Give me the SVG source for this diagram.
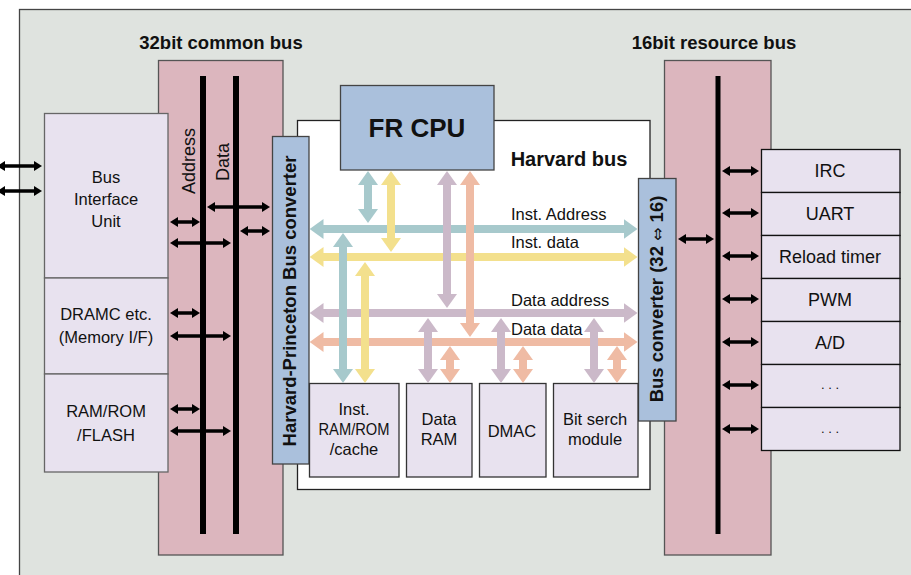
<svg xmlns="http://www.w3.org/2000/svg" width="911" height="575" viewBox="0 0 911 575">
<style>
text{font-family:"Liberation Sans",Arial,sans-serif;fill:#111;text-anchor:middle}
.b{font-weight:bold}
.r{font-size:16.5px}
.p{font-size:18px}
.lbl{font-size:18.5px;font-weight:bold}
.box{fill:#e8e2ef;stroke:#666;stroke-width:1.3}
.pbox{fill:#e8e2ef;stroke:#111;stroke-width:1.3}
.mbox{fill:#e8e2ef;stroke:#333;stroke-width:1.3}
.pink{fill:#dcb6be;stroke:#555;stroke-width:1.3}
.blue{fill:#aac0dc;stroke:#444;stroke-width:1.3}
.busline{stroke:#000;fill:none}
.k{stroke:#000;stroke-width:3.5;fill:none;marker-start:url(#mk);marker-end:url(#mk)}
.t{stroke:#a7c9cc;stroke-width:8;fill:none;marker-start:url(#mt);marker-end:url(#mt)}
.y{stroke:#f3e08d;stroke-width:8;fill:none;marker-start:url(#my);marker-end:url(#my)}
.l{stroke:#cbb9c9;stroke-width:8;fill:none;marker-start:url(#ml);marker-end:url(#ml)}
.s{stroke:#efbba4;stroke-width:8;fill:none;marker-start:url(#ms);marker-end:url(#ms)}
</style>
<defs>
<marker id="mk" markerUnits="userSpaceOnUse" viewBox="0 0 8 10" refX="1" refY="5" markerWidth="8" markerHeight="10" orient="auto-start-reverse"><path d="M0,0 L8,5 L0,10 z" fill="#000"/></marker>
<marker id="mt" markerUnits="userSpaceOnUse" viewBox="0 0 14 20" refX="1" refY="10" markerWidth="14" markerHeight="20" orient="auto-start-reverse"><path d="M0,0 L14,10 L0,20 z" fill="#a7c9cc"/></marker>
<marker id="my" markerUnits="userSpaceOnUse" viewBox="0 0 14 20" refX="1" refY="10" markerWidth="14" markerHeight="20" orient="auto-start-reverse"><path d="M0,0 L14,10 L0,20 z" fill="#f3e08d"/></marker>
<marker id="ml" markerUnits="userSpaceOnUse" viewBox="0 0 14 20" refX="1" refY="10" markerWidth="14" markerHeight="20" orient="auto-start-reverse"><path d="M0,0 L14,10 L0,20 z" fill="#cbb9c9"/></marker>
<marker id="ms" markerUnits="userSpaceOnUse" viewBox="0 0 14 20" refX="1" refY="10" markerWidth="14" markerHeight="20" orient="auto-start-reverse"><path d="M0,0 L14,10 L0,20 z" fill="#efbba4"/></marker>
</defs>
<rect x="0" y="0" width="911" height="575" fill="#fff"/>
<rect id="panel" x="19.5" y="9.5" width="910" height="600" fill="#dfe3df" stroke="#444" stroke-width="1.3"/>

<g id="common-bus">
<text class="lbl" x="221" y="49">32bit common bus</text>
<rect class="pink" x="158.5" y="60.5" width="124.5" height="494.5"/>
<line class="busline" x1="203" y1="76" x2="203" y2="534" stroke-width="6"/>
<line class="busline" x1="236" y1="76" x2="236" y2="534" stroke-width="6"/>
<text class="p" transform="translate(195,161) rotate(-90)">Address</text>
<text class="p" transform="translate(229,162) rotate(-90)">Data</text>
</g>

<g id="resource-bus">
<text class="lbl" x="714" y="49">16bit resource bus</text>
<rect class="pink" x="664.5" y="60.5" width="106.5" height="494.5"/>
<line class="busline" x1="718" y1="76" x2="718" y2="534" stroke-width="5"/>
</g>

<g id="bus-interface-unit">
<rect class="box" x="44.5" y="113.5" width="123.5" height="164.5"/>
<text class="r" x="106" y="183">Bus</text>
<text class="r" x="106" y="205">Interface</text>
<text class="r" x="106" y="227">Unit</text>
</g>
<g id="dramc">
<rect class="box" x="44.5" y="278" width="123.5" height="96"/>
<text class="r" x="106" y="320">DRAMC etc.</text>
<text class="r" x="106" y="343">(Memory I/F)</text>
</g>
<g id="ram-rom-flash">
<rect class="box" x="44.5" y="374" width="123.5" height="98"/>
<text class="r" x="106" y="417">RAM/ROM</text>
<text class="r" x="106" y="441">/FLASH</text>
</g>

<g id="harvard-panel">
<rect x="297.5" y="120.5" width="352.5" height="369" fill="#fff" stroke="#222" stroke-width="1.3"/>
<text class="b" x="569" y="166" style="font-size:20px">Harvard bus</text>
</g>

<g id="fr-cpu">
<rect class="blue" x="340.5" y="85.5" width="153.5" height="84.5"/>
<text class="b" x="417" y="137" style="font-size:26px">FR CPU</text>
</g>

<g id="hp-converter">
<rect class="blue" x="272.5" y="136.5" width="36.5" height="327.5"/>
<text class="lbl" transform="translate(296,301) rotate(-90)">Harvard-Princeton Bus converter</text>
</g>

<g id="bus-converter">
<rect class="blue" x="638.5" y="178.5" width="37.5" height="242.5"/>
<text class="lbl" transform="translate(663,299) rotate(-90)">Bus converter (32 <tspan style="font-family:'DejaVu Sans',sans-serif;font-weight:normal;font-size:16px">⇔</tspan> 16)</text>
</g>

<g id="inst-ram">
<rect class="mbox" x="309.5" y="383.5" width="89.5" height="93.5"/>
<text class="r" x="354" y="415">Inst.</text>
<text class="r" x="354" y="435" textLength="71" lengthAdjust="spacingAndGlyphs">RAM/ROM</text>
<text class="r" x="354" y="455">/cache</text>
</g>
<g id="data-ram">
<rect class="mbox" x="406.5" y="383.5" width="65.5" height="93.5"/>
<text class="r" x="439" y="425">Data</text>
<text class="r" x="439" y="445">RAM</text>
</g>
<g id="dmac">
<rect class="mbox" x="479.5" y="383.5" width="66.5" height="93.5"/>
<text class="r" x="512" y="437">DMAC</text>
</g>
<g id="bit-search">
<rect class="mbox" x="553.5" y="383.5" width="84.5" height="93.5"/>
<text class="r" x="595" y="425">Bit serch</text>
<text class="r" x="595" y="445">module</text>
</g>

<g id="irc"><rect class="pbox" x="761.5" y="149.5" width="138.5" height="43"/><text class="p" x="830" y="177">IRC</text></g>
<g id="uart"><rect class="pbox" x="761.5" y="192.5" width="138.5" height="43"/><text class="p" x="830" y="220">UART</text></g>
<g id="reload-timer"><rect class="pbox" x="761.5" y="235.5" width="138.5" height="43"/><text class="p" x="830" y="263">Reload timer</text></g>
<g id="pwm"><rect class="pbox" x="761.5" y="278.5" width="138.5" height="43"/><text class="p" x="830" y="306">PWM</text></g>
<g id="ad"><rect class="pbox" x="761.5" y="321.5" width="138.5" height="43"/><text class="p" x="830" y="349">A/D</text></g>
<g id="etc1"><rect class="pbox" x="761.5" y="364.5" width="138.5" height="43"/><text class="p" x="830" y="389" style="font-size:13px">. . .</text></g>
<g id="etc2"><rect class="pbox" x="761.5" y="407.5" width="138.5" height="43"/><text class="p" x="830" y="433" style="font-size:13px">. . .</text></g>

<g id="connectors">
<line class="k" x1="4" y1="166" x2="35" y2="166"/>
<line class="k" x1="4" y1="191" x2="35" y2="191"/>
<line class="k" x1="214" y1="207" x2="263" y2="207"/>
<line class="k" x1="247" y1="231" x2="263" y2="231"/>
<line class="k" x1="177" y1="222" x2="193" y2="222"/>
<line class="k" x1="177" y1="243" x2="224" y2="243"/>
<line class="k" x1="177" y1="313" x2="193" y2="313"/>
<line class="k" x1="177" y1="336" x2="224" y2="336"/>
<line class="k" x1="177" y1="409" x2="193" y2="409"/>
<line class="k" x1="177" y1="431" x2="224" y2="431"/>
<line class="k" x1="685" y1="239" x2="707" y2="239"/>
<line class="k" x1="729" y1="171" x2="752" y2="171"/>
<line class="k" x1="729" y1="213" x2="752" y2="213"/>
<line class="k" x1="729" y1="256" x2="752" y2="256"/>
<line class="k" x1="729" y1="299" x2="752" y2="299"/>
<line class="k" x1="729" y1="342" x2="752" y2="342"/>
<line class="k" x1="729" y1="385" x2="752" y2="385"/>
<line class="k" x1="729" y1="429" x2="752" y2="429"/>

<line class="t" x1="322.5" y1="229" x2="624.5" y2="229"/>
<line class="y" x1="322.5" y1="257" x2="624.5" y2="257"/>
<line class="l" x1="322.5" y1="313" x2="624.5" y2="313"/>
<line class="s" x1="322.5" y1="342" x2="624.5" y2="342"/>

<line class="t" x1="368" y1="184" x2="368" y2="210"/>
<line class="y" x1="391" y1="184" x2="391" y2="239"/>
<line class="l" x1="447" y1="184" x2="447" y2="295"/>
<line class="s" x1="470" y1="184" x2="470" y2="324"/>

<line class="t" x1="343" y1="246" x2="343" y2="370"/>
<line class="y" x1="365" y1="275" x2="365" y2="370"/>
<line class="l" x1="428" y1="331" x2="428" y2="370"/>
<line class="s" x1="450" y1="359" x2="450" y2="370"/>
<line class="l" x1="501" y1="331" x2="501" y2="370"/>
<line class="s" x1="523" y1="359" x2="523" y2="370"/>
<line class="l" x1="594" y1="331" x2="594" y2="370"/>
<line class="s" x1="617" y1="359" x2="617" y2="370"/>

<text class="r" x="511" y="220" style="text-anchor:start">Inst. Address</text>
<text class="r" x="511" y="248" style="text-anchor:start">Inst. data</text>
<text class="r" x="511" y="306" style="text-anchor:start">Data address</text>
<text class="r" x="511" y="335" style="text-anchor:start">Data data</text>
</g>
</svg>
